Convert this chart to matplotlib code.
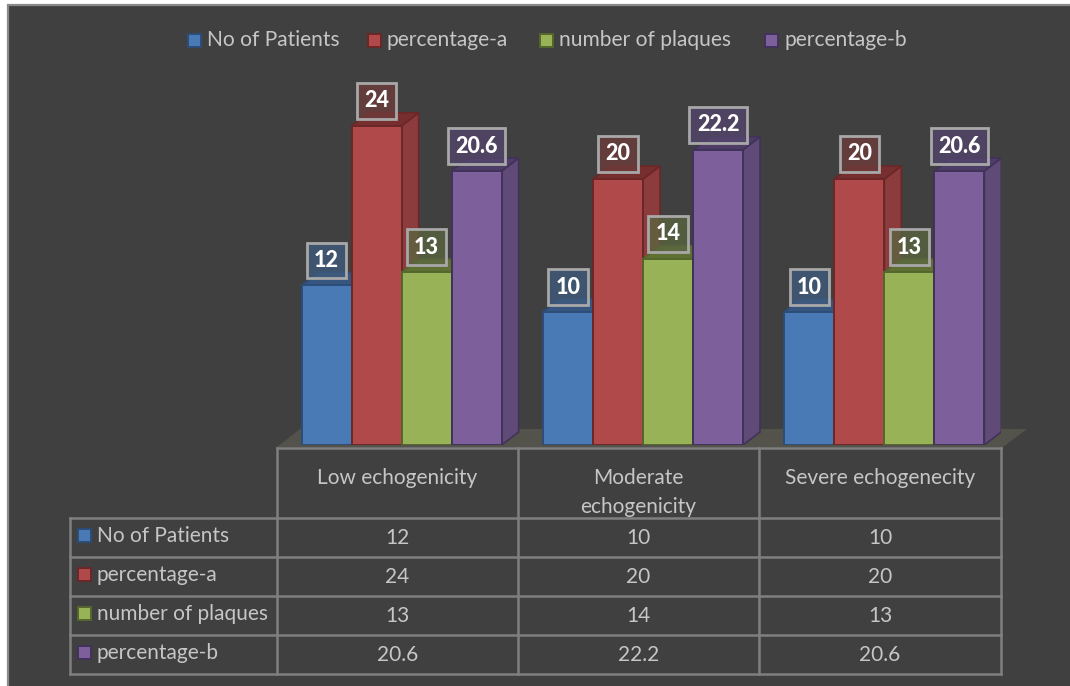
import matplotlib
matplotlib.use("Agg")
import matplotlib.pyplot as plt
from matplotlib.colors import to_rgba
from matplotlib.patches import Polygon, Rectangle

categories = ["Low echogenicity", "Moderate\nechogenicity", "Severe echogenecity"]
series_names = ["No of Patients", "percentage-a", "number of plaques", "percentage-b"]
no_of_patients = [12, 10, 10]
percentage_a = [24, 20, 20]
number_of_plaques = [13, 14, 13]
percentage_b = [20.6, 22.2, 20.6]
series_values = [no_of_patients, percentage_a, number_of_plaques, percentage_b]

front = ["#4a7ab6", "#b04a4a", "#97b257", "#7c5f9b"]
side = ["#3d6293", "#8c3c3c", "#76893f", "#5f4a78"]
top = ["#36567f", "#772e2e", "#5f7033", "#4e3d66"]
edge = ["#2c4d78", "#6b2727", "#55662c", "#41325a"]
label_bg = ["#3f5a7c", "#6e3c3c", "#5a6540", "#53456a"]

W, H = 1070, 686
BG = "#404040"
TXT = "#c6c6c6"
GRID = "#7f7f7f"
plt.rcParams["font.family"] = ["Lato", "DejaVu Sans"]

fig = plt.figure(figsize=(W / 100, H / 100), dpi=100, facecolor="white")

# page layer in pixel units
pg = fig.add_axes([0, 0, 1, 1])
pg.set_xlim(0, W)
pg.set_ylim(H, 0)
pg.axis("off")
pg.add_patch(Rectangle((8, 5), W, H, fc=BG, ec="#8a8a8a", lw=1.6))
pg.add_patch(Polygon([(277, 447), (300, 429), (1027, 429), (1003, 447)], fc="#53534b", ec="none"))

# legend
leg_x = [188, 368, 540, 765]
for x, name, f, e in zip(leg_x, series_names, front, edge):
    pg.add_patch(Rectangle((x, 34), 13, 13, fc=f, ec=e, lw=1.4))
    pg.text(x + 19, 40.5, name, color=TXT, fontsize=15.1, va="center", ha="left")

# data table
col_x = [277, 518, 759, 1001]
row_y = [518, 557, 596, 635, 674]
table_left = 70
header_top = 448
lw = 1.8
for x in col_x:
    pg.plot([x, x], [header_top, row_y[-1]], color=GRID, lw=lw, solid_capstyle="projecting")
pg.plot([table_left, table_left], [row_y[0], row_y[-1]], color=GRID, lw=lw, solid_capstyle="projecting")
pg.plot([col_x[0], col_x[-1]], [header_top, header_top], color=GRID, lw=lw, solid_capstyle="projecting")
for y in row_y:
    pg.plot([table_left, col_x[-1]], [y, y], color=GRID, lw=lw, solid_capstyle="projecting")
for i, c in enumerate(categories):
    cx = (col_x[i] + col_x[i + 1]) / 2
    if "\n" in c:
        pg.text(cx, 492.5, c, color=TXT, fontsize=15, ha="center", va="center", linespacing=1.55)
    else:
        pg.text(cx, 478, c, color=TXT, fontsize=15, ha="center", va="center")
for r, (name, vals) in enumerate(zip(series_names, series_values)):
    yc = row_y[r] + 18
    pg.add_patch(Rectangle((78, yc - 7.5), 13, 13, fc=front[r], ec=edge[r], lw=1.4))
    pg.text(97, yc, name, color=TXT, fontsize=15, ha="left", va="center")
    for i, v in enumerate(vals):
        cx = (col_x[i] + col_x[i + 1]) / 2
        pg.text(cx, yc + 2, f"{v:g}", color=TXT, fontsize=15, ha="center", va="center")

# bars on a value scale: x spans the three categories, y is in data units
PX_PER_UNIT = 13.3
BASE = 445
YMAX = 32
ax = fig.add_axes([277 / W, 1 - BASE / H, (1001 - 277) / W, YMAX * PX_PER_UNIT / H])
ax.set_xlim(0, 3)
ax.set_ylim(0, YMAX)
ax.axis("off")
ax.patch.set_alpha(0)
PX = 3 / (1001 - 277)
bw = 50 * PX
dx, dy = 17 * PX, 13 / PX_PER_UNIT
shift = 4 * PX
z = 2
for c in range(3):
    for s in range(4):
        v = series_values[s][c]
        x0 = c + 0.5 + shift + (s - 2) * bw
        x1 = x0 + bw
        ax.add_patch(Polygon([(x1, 0), (x1 + dx, dy), (x1 + dx, v + dy), (x1, v)],
                             fc=side[s], ec=edge[s], lw=1.2, zorder=z))
        ax.add_patch(Polygon([(x0, v), (x0 + dx, v + dy), (x1 + dx, v + dy), (x1, v)],
                             fc=top[s], ec=edge[s], lw=1.2, zorder=z))
        ax.bar(x0, v, width=bw, align="edge", color=front[s], edgecolor=edge[s], lw=1.4, zorder=z + 0.5)
        z += 1
for c in range(3):
    for s in range(4):
        v = series_values[s][c]
        x0 = c + 0.5 + shift + (s - 2) * bw
        ax.annotate(f"{v:g}", (x0 + bw / 2, v), xytext=(0, 18), textcoords="offset points",
                    ha="center", va="center", color="white", fontsize=15.5, fontweight="black", zorder=100,
                    bbox=dict(boxstyle="square,pad=0.34", fc=to_rgba(label_bg[s], 0.78), ec="#a8a8a8", lw=2))

fig.savefig("out.png", dpi=100, facecolor="white")
